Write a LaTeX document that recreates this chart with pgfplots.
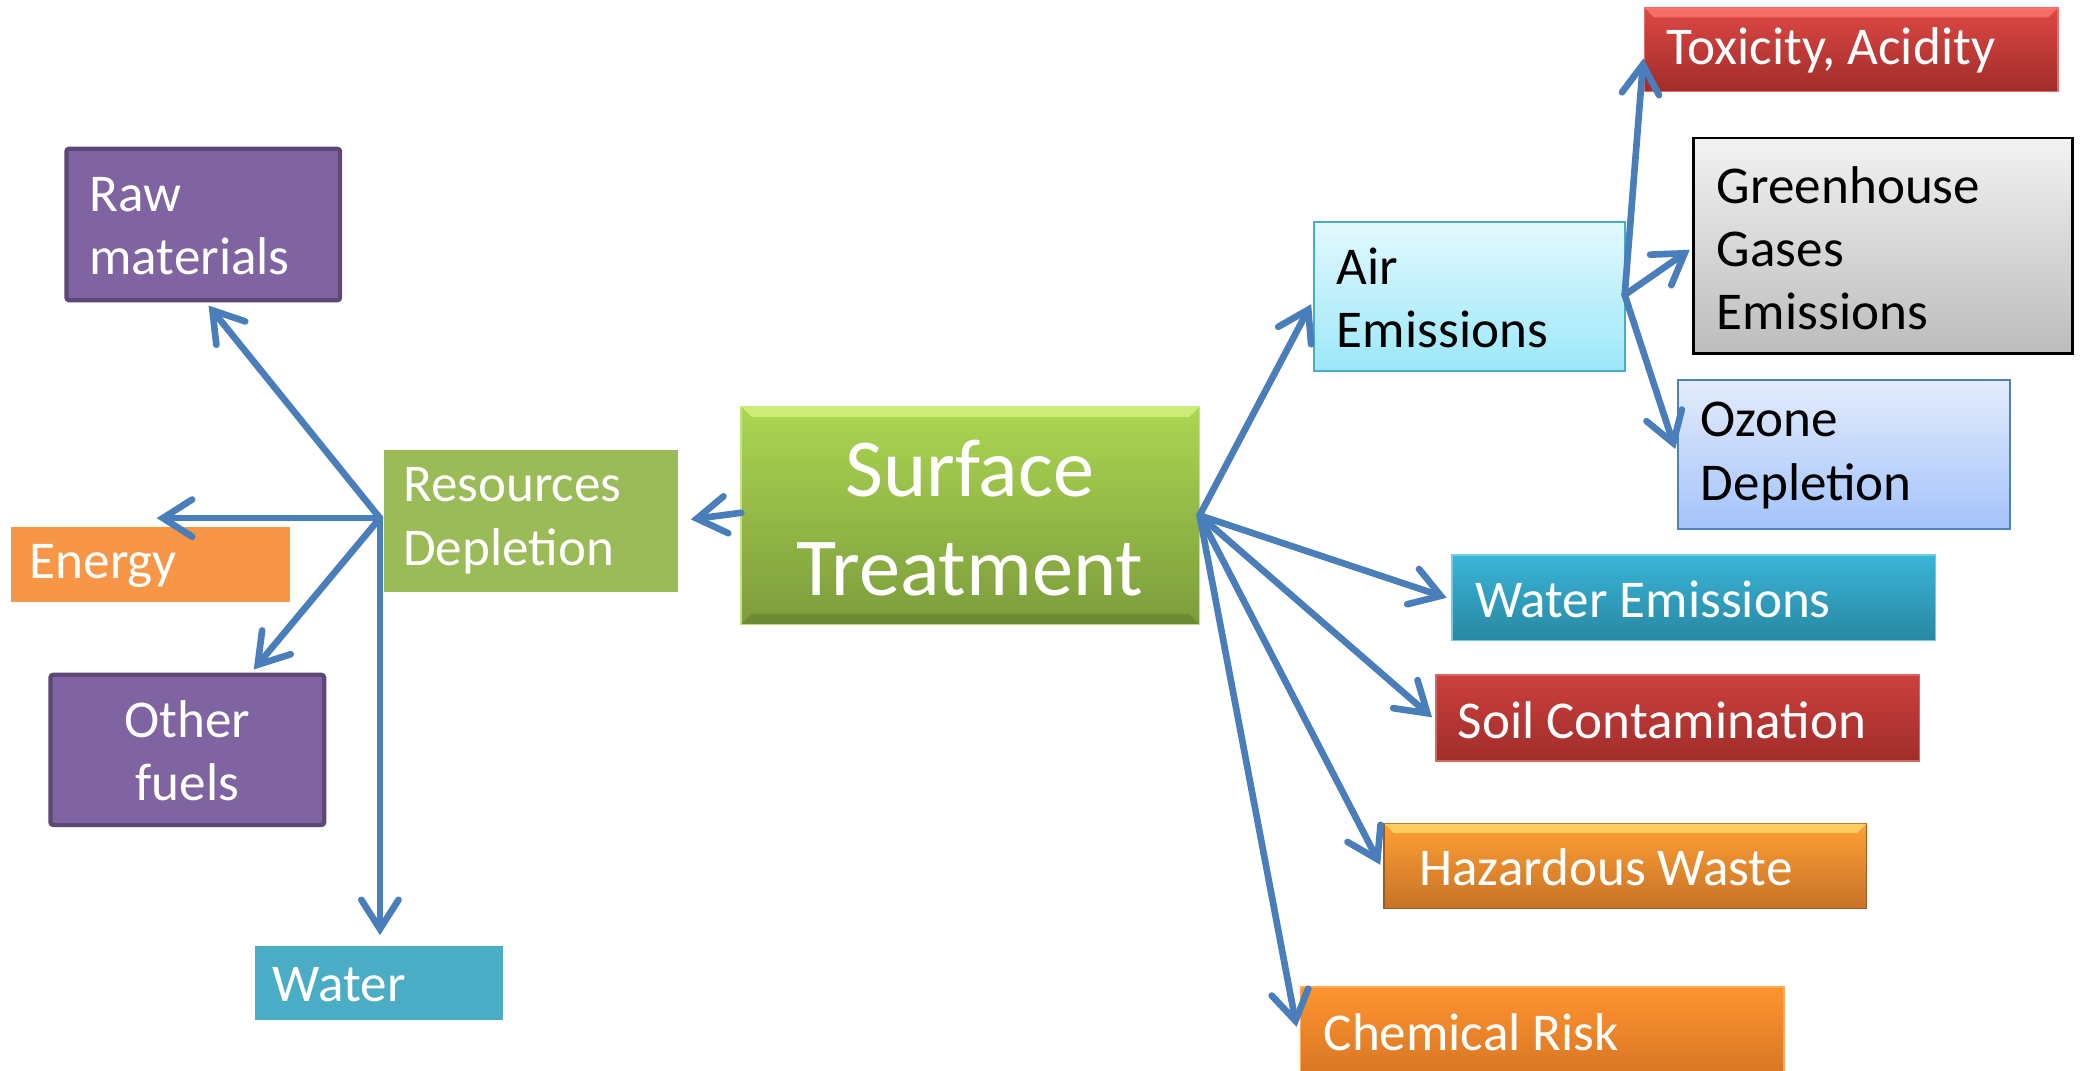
\documentclass[border=0pt]{standalone}
\usepackage{pgfplots}
\pgfplotsset{compat=1.18}
\usepackage{fontspec}
\setmainfont{Carlito}
\usetikzlibrary{arrows.meta}

\definecolor{arr}{RGB}{74,126,187}
\definecolor{purp}{RGB}{128,100,162}
\definecolor{purpb}{RGB}{92,71,118}
\definecolor{energy}{RGB}{247,150,70}
\definecolor{water}{RGB}{75,172,198}
\definecolor{resgreen}{RGB}{155,187,89}
\definecolor{stTop}{RGB}{172,214,82}
\definecolor{stBot}{RGB}{124,156,60}
\definecolor{stHi}{RGB}{214,242,130}
\definecolor{airTop}{RGB}{226,248,253}
\definecolor{airBot}{RGB}{156,232,250}
\definecolor{toxTop}{RGB}{222,72,68}
\definecolor{toxBot}{RGB}{160,44,42}
\definecolor{toxHi}{RGB}{250,120,110}
\definecolor{ghgTop}{RGB}{242,242,242}
\definecolor{ghgBot}{RGB}{188,188,188}
\definecolor{ozTop}{RGB}{227,236,252}
\definecolor{ozBot}{RGB}{164,195,250}
\definecolor{ozB}{RGB}{79,129,189}
\definecolor{weTop}{RGB}{58,180,216}
\definecolor{weBot}{RGB}{40,136,162}
\definecolor{scTop}{RGB}{204,64,61}
\definecolor{scBot}{RGB}{160,45,43}
\definecolor{hwTop}{RGB}{255,160,52}
\definecolor{hwBot}{RGB}{198,114,40}
\definecolor{hwHi}{RGB}{255,214,110}
\definecolor{crTop}{RGB}{255,148,48}
\definecolor{crBot}{RGB}{214,118,36}

\newcommand{\lblfont}{\fontsize{20}{23.8}\selectfont}
\newcommand{\bigfont}{\fontsize{31}{37.5}\selectfont}

\begin{document}
\begin{tikzpicture}
\begin{axis}[hide axis, scale only axis, width=784pt, height=403pt,
  xmin=0, xmax=1568, ymin=0, ymax=806, y dir=reverse, clip=false,
  arrowline/.style={arr, line width=2.5pt, line cap=round, line join=round,
    -{Straight Barb[length=11pt,width=14pt,line cap=round]}, no marks}]

% ---- left boxes
\draw[purpb, line width=1.6pt, fill=purp, rounded corners=1pt] (axis cs:50,112) rectangle (axis cs:256,226);
\node[anchor=west, align=left, text=white, font=\lblfont, inner sep=0pt] at (axis cs:67,170) {Raw\\materials};
\fill[energy] (axis cs:8,397) rectangle (axis cs:218,453);
\node[anchor=west, text=white, font=\lblfont, inner sep=0pt] at (axis cs:22,426) {Energy};
\draw[purpb, line width=1.6pt, fill=purp, rounded corners=1pt] (axis cs:38,508) rectangle (axis cs:244,621);
\node[align=center, text=white, font=\lblfont, inner sep=0pt] at (axis cs:141,565) {Other\\fuels};
\fill[water] (axis cs:192,712) rectangle (axis cs:379,768);
\node[anchor=west, text=white, font=\lblfont, inner sep=0pt] at (axis cs:205,741) {Water};
\fill[resgreen] (axis cs:289,339) rectangle (axis cs:510,446);
\node[anchor=west, align=left, text=white, font=\lblfont, inner sep=0pt] at (axis cs:303,392) {Resources\\Depletion};

% ---- central box
\shade[top color=stTop, bottom color=stBot, draw=stTop!70!white, line width=0.6pt] (axis cs:558,306) rectangle (axis cs:903,470);
\fill[stHi, opacity=0.8] (axis cs:558,306) -- (axis cs:903,306) -- (axis cs:895,314) -- (axis cs:566,314) -- cycle;
\fill[black, opacity=0.12] (axis cs:558,470) -- (axis cs:903,470) -- (axis cs:895,462) -- (axis cs:566,462) -- cycle;
\node[align=center, text=white, font=\bigfont, inner sep=0pt] at (axis cs:730,390) {Surface\\Treatment};

% ---- right boxes
\shade[top color=airTop, bottom color=airBot, draw=water, line width=0.8pt] (axis cs:989,167) rectangle (axis cs:1223,279);
\node[anchor=west, align=left, text=black, font=\lblfont, inner sep=0pt] at (axis cs:1006,224) {Air\\Emissions};

\shade[top color=toxTop, bottom color=toxBot, draw=toxTop!80!white, line width=0.6pt] (axis cs:1238,6) rectangle (axis cs:1549,69);
\fill[toxHi, opacity=0.8] (axis cs:1238,6) -- (axis cs:1549,6) -- (axis cs:1542,13) -- (axis cs:1245,13) -- cycle;
\node[anchor=west, text=white, font=\lblfont, inner sep=0pt] at (axis cs:1254,38) {Toxicity, Acidity};

\shade[top color=ghgTop, bottom color=ghgBot, draw=black, line width=1pt] (axis cs:1275,104) rectangle (axis cs:1560,266);
\node[anchor=west, align=left, text=black, font=\lblfont, inner sep=0pt] at (axis cs:1292,187) {Greenhouse\\Gases\\Emissions};

\shade[top color=ozTop, bottom color=ozBot, draw=ozB, line width=0.8pt] (axis cs:1263,286) rectangle (axis cs:1513,398);
\node[anchor=west, align=left, text=black, font=\lblfont, inner sep=0pt] at (axis cs:1280,343) {Ozone\\Depletion};

\shade[top color=weTop, bottom color=weBot, draw=weTop!70!white, line width=0.6pt] (axis cs:1093,418) rectangle (axis cs:1457,482);
\node[anchor=west, text=white, font=\lblfont, inner sep=0pt] at (axis cs:1110,451) {Water Emissions};

\shade[top color=scTop, bottom color=scBot, draw=scTop!80!white, line width=0.6pt] (axis cs:1081,508) rectangle (axis cs:1445,573);
\node[anchor=west, text=white, font=\lblfont, inner sep=0pt] at (axis cs:1097,542) {Soil Contamination};

\shade[top color=hwTop, bottom color=hwBot, draw=hwBot!80!black, line width=0.6pt] (axis cs:1042,620) rectangle (axis cs:1405,684);
\fill[hwHi, opacity=0.8] (axis cs:1042,620) -- (axis cs:1405,620) -- (axis cs:1398,627) -- (axis cs:1049,627) -- cycle;
\node[anchor=west, text=white, font=\lblfont, inner sep=0pt] at (axis cs:1068,653) {Hazardous Waste};

\shade[top color=crTop, bottom color=crBot, draw=crTop!80!white, line width=0.6pt] (axis cs:979,743) rectangle (axis cs:1343,810);
\node[anchor=west, text=white, font=\lblfont, inner sep=0pt] at (axis cs:996,777) {Chemical Risk};

% ---- arrows
\addplot[arrowline] coordinates {(558,386) (520,391)};
\addplot[arrowline] coordinates {(286,390) (157,230)};
\addplot[arrowline] coordinates {(286,390) (118,390)};
\addplot[arrowline] coordinates {(286,390) (191,504)};
\addplot[arrowline] coordinates {(286,390) (286,704)};

\addplot[arrowline] coordinates {(903,388) (987,229)};
\addplot[arrowline] coordinates {(903,388) (1089,450)};
\addplot[arrowline] coordinates {(903,388) (1078,540)};
\addplot[arrowline] coordinates {(903,388) (1039,651)};
\addplot[arrowline] coordinates {(903,388) (976,773)};

\addplot[arrowline] coordinates {(1223,222) (1237,44)};
\addplot[arrowline] coordinates {(1223,222) (1272,188)};
\addplot[arrowline] coordinates {(1223,222) (1261,338)};
\end{axis}
\pgfresetboundingbox
\path (current axis.south west) rectangle (current axis.north east);
\end{tikzpicture}
\end{document}
